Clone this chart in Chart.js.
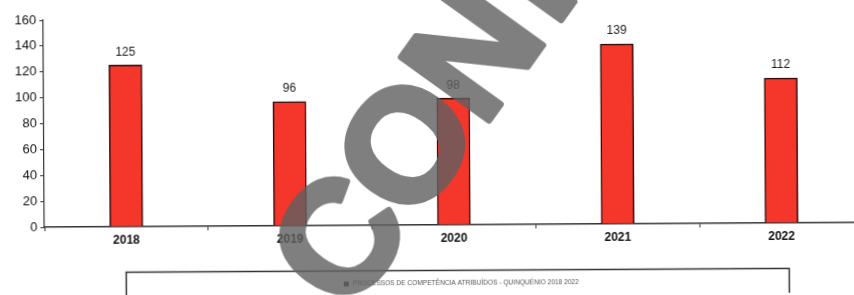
<!DOCTYPE html>
<html>
<head>
<meta charset="utf-8">
<script src="https://cdn.jsdelivr.net/npm/chart.js@4/dist/chart.umd.min.js"></script>
<style>
  html, body { margin: 0; padding: 0; background: #fff; overflow: hidden; }
  #wrap {
    position: absolute; left: 0; top: 0;
    width: 866px; height: 295px;
    transform: rotate(-0.33deg);
    transform-origin: 427px 147px;
  }
</style>
</head>
<body>
<div id="wrap"><canvas id="grafico"></canvas></div>
<script>
const anos = ['2018', '2019', '2020', '2021', '2022'];
const valores = [125, 96, 98, 139, 112];
const legendaTexto = 'PROCESSOS DE COMPETÊNCIA ATRIBUÍDOS - QUINQUÉNIO 2018 2022';
const marcaAgua = 'CONFIDENCIAL';

// numbers above bars
const rotulosValor = {
  id: 'rotulosValor',
  afterDatasetsDraw(chart) {
    const ctx = chart.ctx;
    const meta = chart.getDatasetMeta(0);
    ctx.save();
    ctx.font = '12px "Liberation Sans", Arial, sans-serif';
    ctx.fillStyle = '#1a1a1a';
    ctx.textAlign = 'center';
    ctx.textBaseline = 'middle';
    meta.data.forEach((bar, i) => {
      ctx.fillText(chart.data.datasets[0].data[i], bar.x, bar.y - 13);
    });
    ctx.restore();
  }
};

// boxed legend at the bottom
const legendaCaixa = {
  id: 'legendaCaixa',
  afterDraw(chart) {
    const ctx = chart.ctx;
    ctx.save();
    ctx.strokeStyle = '#333';
    ctx.lineWidth = 1.5;
    ctx.strokeRect(125.5, 270.5, 663, 40);
    ctx.fillStyle = '#444';
    ctx.fillRect(343, 281, 5, 5);
    ctx.font = '10px "Liberation Sans", Arial, sans-serif';
    const txt = chart.data.datasets[0].label;
    const size = 10 * 226 / ctx.measureText(txt).width;
    ctx.font = size.toFixed(2) + 'px "Liberation Sans", Arial, sans-serif';
    ctx.fillStyle = '#555';
    ctx.textBaseline = 'middle';
    ctx.fillText(txt, 352, 283.5);
    ctx.restore();
  }
};

// scanned watermark, drawn opaque offscreen then laid on top
const carimbo = {
  id: 'carimbo',
  afterDraw(chart) {
    const ctx = chart.ctx;
    const off = document.createElement('canvas');
    off.width = chart.width;
    off.height = chart.height;
    const o = off.getContext('2d');
    const em = 158;
    const ang = -54 * Math.PI / 180;
    const passo = 115;
    o.font = 'bold ' + em + 'px "Liberation Sans", Arial, sans-serif';
    o.fillStyle = '#606060';
    o.strokeStyle = '#606060';
    o.lineWidth = 6;
    o.lineJoin = 'round';
    o.textAlign = 'center';
    o.textBaseline = 'alphabetic';
    // centre of the "O"
    const cx = 403, cy = 143;
    for (let i = 0; i < marcaAgua.length; i++) {
      const d = (i - 1) * passo;
      o.save();
      o.translate(cx + d * Math.cos(ang), cy + d * Math.sin(ang));
      o.rotate(ang);
      o.fillText(marcaAgua[i], 0, 0.36 * em);
      o.strokeText(marcaAgua[i], 0, 0.36 * em);
      o.restore();
    }
    ctx.save();
    ctx.globalAlpha = 0.8;
    ctx.drawImage(off, 0, 0, chart.width, chart.height);
    ctx.restore();
  }
};

new Chart(document.getElementById('grafico'), {
  type: 'bar',
  data: {
    labels: anos,
    datasets: [{
      label: legendaTexto,
      data: valores,
      backgroundColor: '#f5362b',
      borderColor: '#2b0c0a',
      borderWidth: 1.5,
      barThickness: 33
    }]
  },
  options: {
    responsive: true,
    maintainAspectRatio: false,
    animation: false,
    layout: { padding: { top: 18, right: 3, bottom: 0, left: 0 } },
    scales: {
      y: {
        min: 0,
        max: 160,
        ticks: {
          stepSize: 20,
          padding: 3,
          color: '#111',
          font: { family: '"Liberation Sans Narrow", "Liberation Sans", Arial, sans-serif', size: 13 }
        },
        grid: { drawOnChartArea: false, tickLength: 4, color: '#333' },
        border: { color: '#333', width: 1.2 },
        afterFit(scale) { scale.width = 44; }
      },
      x: {
        ticks: {
          padding: 2,
          color: '#111',
          font: { family: '"Liberation Sans", Arial, sans-serif', size: 12, weight: 'bold' }
        },
        grid: { drawOnChartArea: false, tickLength: 4, color: '#333' },
        border: { color: '#333', width: 1.5 },
        afterFit(scale) { scale.height = 70; }
      }
    },
    plugins: {
      legend: { display: false },
      tooltip: { enabled: false }
    }
  },
  plugins: [rotulosValor, legendaCaixa, carimbo]
});
</script>
</body>
</html>
